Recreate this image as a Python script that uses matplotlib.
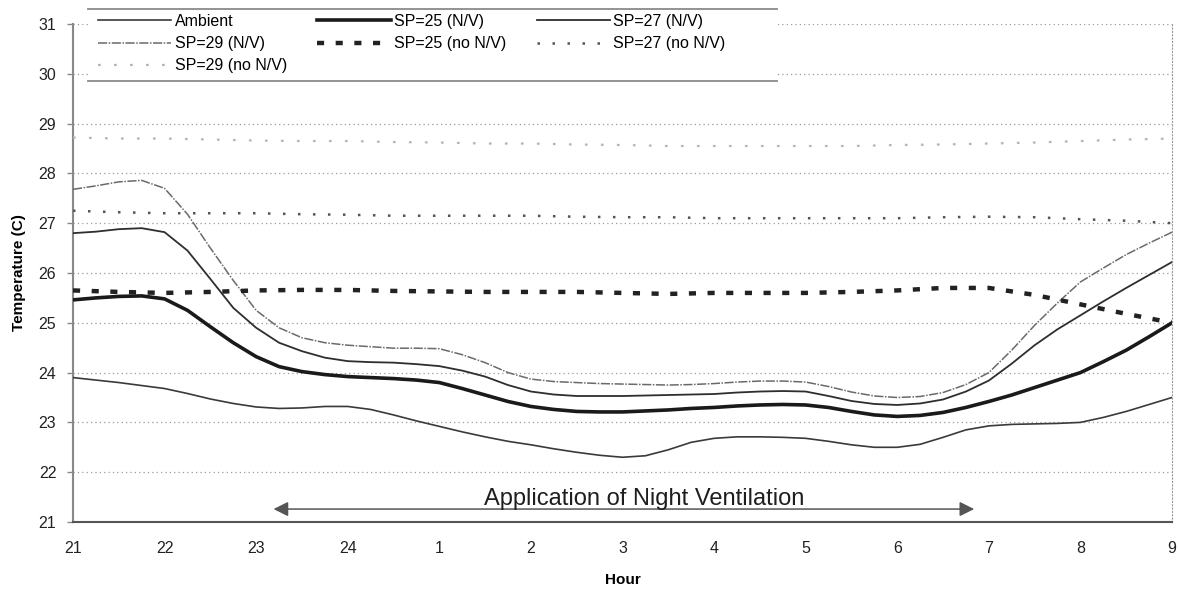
import numpy as np
import matplotlib
matplotlib.use("Agg")
import matplotlib.pyplot as plt
from matplotlib.lines import Line2D
from matplotlib.patches import Rectangle

plt.rcParams['font.family'] = ['Liberation Sans', 'DejaVu Sans']

# ==== DATA (hours after 21:00) ====
rotulos_x = ['21', '22', '23', '24', '1', '2', '3', '4', '5', '6', '7', '8', '9']

# quarter-hour readings for the curves with N/V and the ambient
horas_q = np.arange(0, 12.01, 0.25)
ambient = [23.90, 23.85, 23.80, 23.74, 23.68, 23.58, 23.47, 23.38, 23.31, 23.28,
           23.29, 23.32, 23.32, 23.26, 23.15, 23.03, 22.92, 22.81, 22.71, 22.62,
           22.55, 22.47, 22.40, 22.34, 22.30, 22.33, 22.45, 22.60, 22.68, 22.71,
           22.71, 22.70, 22.68, 22.62, 22.55, 22.50, 22.50, 22.56, 22.70, 22.85,
           22.93, 22.96, 22.97, 22.98, 23.00, 23.10, 23.22, 23.36, 23.50]
sp25_nv = [25.46, 25.50, 25.53, 25.54, 25.48, 25.25, 24.92, 24.60, 24.32, 24.12,
           24.02, 23.96, 23.92, 23.90, 23.88, 23.85, 23.80, 23.68, 23.55, 23.42,
           23.32, 23.26, 23.22, 23.21, 23.21, 23.23, 23.25, 23.28, 23.30, 23.33,
           23.35, 23.36, 23.35, 23.30, 23.22, 23.15, 23.12, 23.14, 23.20, 23.30,
           23.42, 23.55, 23.70, 23.85, 24.00, 24.22, 24.45, 24.72, 25.00]
sp27_nv = [26.80, 26.83, 26.88, 26.90, 26.82, 26.45, 25.88, 25.30, 24.90, 24.60,
           24.43, 24.30, 24.23, 24.21, 24.20, 24.17, 24.13, 24.04, 23.92, 23.75,
           23.62, 23.56, 23.53, 23.53, 23.53, 23.54, 23.55, 23.56, 23.57, 23.60,
           23.62, 23.63, 23.62, 23.53, 23.43, 23.37, 23.35, 23.38, 23.46, 23.62,
           23.84, 24.18, 24.55, 24.87, 25.15, 25.43, 25.70, 25.96, 26.22]
sp29_nv = [27.68, 27.75, 27.83, 27.86, 27.70, 27.18, 26.50, 25.85, 25.25, 24.90,
           24.70, 24.60, 24.55, 24.52, 24.49, 24.49, 24.48, 24.36, 24.20, 24.00,
           23.87, 23.82, 23.80, 23.78, 23.77, 23.76, 23.75, 23.76, 23.78, 23.81,
           23.83, 23.83, 23.81, 23.72, 23.61, 23.53, 23.50, 23.52, 23.60, 23.76,
           24.00, 24.45, 24.95, 25.40, 25.82, 26.10, 26.37, 26.60, 26.82]

# half-hour readings for the curves without N/V
horas_m = np.arange(0, 12.01, 0.5)
sp25_sem = [25.65, 25.62, 25.60, 25.62, 25.65, 25.66, 25.66, 25.64, 25.63, 25.62,
            25.62, 25.62, 25.60, 25.58, 25.60, 25.60, 25.60, 25.62, 25.65, 25.70,
            25.70, 25.56, 25.37, 25.18, 25.00]
sp27_sem = [27.25, 27.22, 27.20, 27.20, 27.20, 27.18, 27.17, 27.15, 27.15, 27.15,
            27.15, 27.13, 27.12, 27.12, 27.10, 27.10, 27.10, 27.10, 27.10, 27.12,
            27.13, 27.12, 27.08, 27.05, 27.00]
sp29_sem = [28.72, 28.70, 28.70, 28.68, 28.66, 28.65, 28.65, 28.63, 28.62, 28.60,
            28.60, 28.58, 28.57, 28.55, 28.55, 28.55, 28.55, 28.55, 28.57, 28.58,
            28.60, 28.62, 28.65, 28.68, 28.70]

# ==== FIGURE ====
W, H = 1178, 591
fig = plt.figure(figsize=(W / 100, H / 100), dpi=100)
ax = fig.add_axes([73 / W, 1 - 522 / H, (1172 - 73) / W, (522 - 24) / H])

ax.set_xlim(0, 12)
ax.set_ylim(21, 31)
ax.set_xticks(np.arange(13))
ax.set_xticklabels(rotulos_x)
ax.set_yticks(np.arange(21, 32))

for y in range(22, 32):
    ax.axhline(y, color='#9a9a9a', lw=0.9, dashes=(1, 2.5), zorder=1)

l_amb, = ax.plot(horas_q, ambient, color='#3a3a3a', lw=1.2, label='Ambient', zorder=3)
l_25, = ax.plot(horas_q, sp25_nv, color='#1a1a1a', lw=2.6, label='SP=25 (N/V)', zorder=3)
l_27, = ax.plot(horas_q, sp27_nv, color='#2e2e2e', lw=1.3, label='SP=27 (N/V)', zorder=3)
l_29, = ax.plot(horas_q, sp29_nv, color='#6a6a6a', lw=1.1, dashes=(6, 1, 1, 1),
                label='SP=29 (N/V)', zorder=3)
l_25s, = ax.plot(horas_m, sp25_sem, color='#222222', lw=3.2, dashes=(1.6, 2.6),
                 label='SP=25 (no N/V)', zorder=3)
l_27s, = ax.plot(horas_m, sp27_sem, color='#555555', lw=1.8, dashes=(1, 5),
                 label='SP=27 (no N/V)', zorder=3)
l_29s, = ax.plot(horas_m, sp29_sem, color='#b5b5b5', lw=1.6, dashes=(1.2, 6),
                 label='SP=29 (no N/V)', zorder=3)

# spines / ticks
ax.spines['top'].set_visible(False)
ax.spines['left'].set_color('#888888')
ax.spines['left'].set_linewidth(1.5)
ax.spines['bottom'].set_color('#555555')
ax.spines['bottom'].set_linewidth(1.5)
ax.spines['right'].set_color('#999999')
ax.spines['right'].set_linestyle((0, (1, 2)))
ax.tick_params(axis='x', length=0, pad=14, labelsize=11.5, colors='#222222')
ax.tick_params(axis='y', length=4, width=1, color='#888888', pad=8,
               labelsize=11.5, labelcolor='#222222')

ax.set_xlabel('Hour', fontsize=11, fontweight='bold', labelpad=12)
ax.set_ylabel('Temperature (C)', fontsize=11, fontweight='bold', labelpad=9)

# arrow + text
ax.annotate('', xy=(2.19, 21.26), xytext=(9.84, 21.26),
            arrowprops=dict(arrowstyle='<|-|>', color='#555555', lw=1.1,
                            mutation_scale=22, shrinkA=0, shrinkB=0))
ax.text(6.24, 21.34, 'Application of Night Ventilation', ha='center',
        va='baseline', fontsize=17, color='#1e1e1e')

# ==== LEGEND (white box, top/bottom rules only) ====
fig.add_artist(Rectangle((88 / W, 1 - 81 / H), (777 - 88) / W, (81 - 9) / H,
                         transform=fig.transFigure, facecolor='white',
                         edgecolor='none', zorder=5))
for yy in (9, 81):
    fig.add_artist(Line2D([88 / W, 777 / W], [1 - yy / H, 1 - yy / H],
                          transform=fig.transFigure, color='#8a8a8a', lw=1.3, zorder=6))

handles = [l_amb, l_29, l_29s, l_25, l_25s, l_27, l_27s]
leg = fig.legend(handles=handles, labels=[h.get_label() for h in handles],
                 ncol=3, loc='upper left', bbox_to_anchor=(98 / W, 1 - 14 / H),
                 frameon=False, fontsize=11.5, handlelength=4.6, handletextpad=0.2,
                 columnspacing=1.9, labelspacing=0.45, borderpad=0, borderaxespad=0)
leg.set_zorder(7)

fig.savefig('out.png', dpi=100, facecolor='white')
